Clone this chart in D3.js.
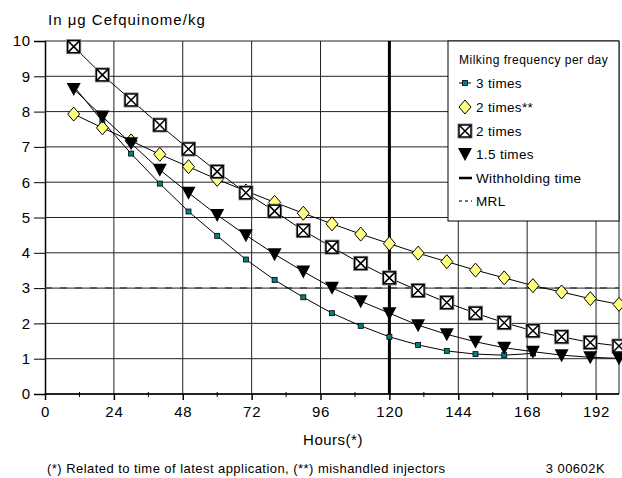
<!DOCTYPE html>
<html>
<head>
<meta charset="utf-8">
<script src="https://cdn.jsdelivr.net/npm/d3@7"></script>
<style>
body{margin:0;background:#fff}
text{font-family:"Liberation Sans",Arial,sans-serif}
</style>
</head>
<body>
<svg id="chart" width="622" height="478"></svg>
<script>
// hours after last application
const hours = [10,20,30,40,50,60,70,80,90,100,110,120,130,140,150,160,170,180,190,200]
const times3 = [8.72,7.73,6.81,5.96,5.17,4.48,3.81,3.23,2.74,2.29,1.93,1.62,1.39,1.22,1.13,1.10,1.15]
const times2mis = [7.93,7.54,7.17,6.79,6.44,6.08,5.75,5.43,5.12,4.82,4.53,4.26,3.99,3.75,3.51,3.29,3.07,2.89,2.70,2.54]
const times2 = [9.84,9.04,8.33,7.62,6.94,6.30,5.70,5.18,4.63,4.16,3.70,3.29,2.93,2.59,2.29,2.02,1.79,1.62,1.46,1.36]
const times15 = [8.64,7.86,7.10,6.35,5.70,5.07,4.50,3.96,3.47,3.01,2.63,2.29,1.95,1.69,1.48,1.31,1.20,1.10,1.04,1.01]
const xTicks = [0,24,48,72,96,120,144,168,192]
const yTicks = [0,1,2,3,4,5,6,7,8,9,10]
const withholding = 120
const mrl = 3
const legendLabels = ['3 times','2 times**','2 times','1.5 times','Withholding time','MRL']

const svg = d3.select('#chart')
const pLeft = 45, pRight = 619, pTop = 41, pBottom = 394
const x = d3.scaleLinear().domain([0,200]).range([pLeft,pRight])
const y = d3.scaleLinear().domain([0,10]).range([pBottom,pTop])

// grid
svg.append('g').selectAll('line').data(yTicks).join('line')
    .attr('x1',pLeft).attr('x2',pRight)
    .attr('y1',d => y(d)).attr('y2',d => y(d))
    .attr('stroke','#222').attr('stroke-width',1)
svg.append('g').selectAll('line').data(xTicks.filter(d => d > 0)).join('line')
    .attr('x1',d => x(d)).attr('x2',d => x(d))
    .attr('y1',pTop).attr('y2',pBottom)
    .attr('stroke','#222').attr('stroke-width',1)
svg.append('line').attr('x1',pRight).attr('x2',pRight).attr('y1',pTop).attr('y2',pBottom)
    .attr('stroke','#222')

// axes
const xAxis = d3.axisBottom(x).tickValues(xTicks).tickSize(6).tickPadding(6)
const gx = svg.append('g').attr('transform',`translate(0,${pBottom})`).call(xAxis)
gx.select('.domain').attr('stroke','#000').attr('stroke-width',1.5).attr('d',`M${pLeft},0H${pRight}`)
gx.selectAll('text').attr('font-size',15).attr('letter-spacing',0.7).attr('fill','#000')
gx.selectAll('line').attr('stroke','#000').attr('stroke-width',1.5)
// minor ticks
svg.append('g').selectAll('line').data(d3.range(12,200,24)).join('line')
    .attr('x1',d => x(d)).attr('x2',d => x(d))
    .attr('y1',pBottom - 2).attr('y2',pBottom + 3)
    .attr('stroke','#000')

const yAxis = d3.axisLeft(y).tickValues(yTicks).tickSize(11).tickPadding(3)
const gy = svg.append('g').attr('transform',`translate(${pLeft},0)`).call(yAxis)
gy.select('.domain').attr('stroke','#000').attr('stroke-width',1.5)
gy.selectAll('text').attr('font-size',15).attr('letter-spacing',0.8).attr('fill','#000')
gy.selectAll('line').attr('stroke','#000').attr('stroke-width',1)

// MRL and withholding time
svg.append('line').attr('x1',pLeft).attr('x2',pRight).attr('y1',y(mrl)).attr('y2',y(mrl))
    .attr('stroke','#444').attr('stroke-width',1.5).attr('stroke-dasharray','7,8')
svg.append('line').attr('x1',x(withholding)).attr('x2',x(withholding)).attr('y1',pTop).attr('y2',pBottom)
    .attr('stroke','#000').attr('stroke-width',3)

// legend box
const lg = svg.append('g')
lg.append('rect').attr('x',448).attr('y',41).attr('width',171).attr('height',180)
    .attr('fill','#fff').attr('stroke','#000').attr('stroke-width',1)

const line = d3.line().x(d => x(d[0])).y(d => y(d[1]))
function series(vals){ return vals.map((v,i) => [hours[i],v]) }

function drawSquare(g,cx,cy){
    g.append('rect').attr('x',cx-2.5).attr('y',cy-2.5).attr('width',5).attr('height',5)
        .attr('fill','#008080').attr('stroke','#000').attr('stroke-width',0.8)
}
function drawDiamond(g,cx,cy){
    g.append('path').attr('d',`M${cx},${cy-7}L${cx+6},${cy}L${cx},${cy+7}L${cx-6},${cy}Z`)
        .attr('fill','#ffff80').attr('stroke','#000').attr('stroke-width',1)
}
function drawBoxX(g,cx,cy){
    g.append('rect').attr('x',cx-7).attr('y',cy-7).attr('width',14).attr('height',14)
        .attr('fill','#fff').attr('stroke','#888').attr('stroke-width',1)
    g.append('rect').attr('x',cx-6).attr('y',cy-6).attr('width',12).attr('height',12)
        .attr('fill','none').attr('stroke','#000').attr('stroke-width',1.5)
    g.append('path').attr('d',`M${cx-6},${cy-6}L${cx+6},${cy+6}M${cx+6},${cy-6}L${cx-6},${cy+6}`)
        .attr('stroke','#000').attr('stroke-width',1.5)
}
function drawTriangle(g,cx,cy){
    g.append('path').attr('d',`M${cx-7},${cy-6}L${cx+7},${cy-6}L${cx},${cy+7}Z`)
        .attr('fill','#000')
}

const all = [
    {vals:times3, draw:drawSquare},
    {vals:times2mis, draw:drawDiamond},
    {vals:times2, draw:drawBoxX},
    {vals:times15, draw:drawTriangle}
]
all.forEach(s => {
    svg.append('path').attr('d',line(series(s.vals)))
        .attr('fill','none').attr('stroke','#000').attr('stroke-width',1)
})
all.forEach(s => {
    const g = svg.append('g')
    series(s.vals).forEach(p => s.draw(g,x(p[0]),y(p[1])))
})

// legend content
lg.append('text').attr('x',459).attr('y',64).attr('font-size',12).attr('letter-spacing',0.5)
    .text('Milking frequency per day')
const rowY = [83,107,131,154,178,201]
legendLabels.forEach((lab,i) => {
    const ly = rowY[i]
    lg.append('text').attr('x',476).attr('y',ly + 5).attr('font-size',13.5).attr('letter-spacing',0.35).text(lab)
})
lg.append('line').attr('x1',459).attr('x2',471).attr('y1',rowY[0]).attr('y2',rowY[0]).attr('stroke','#000')
drawSquare(lg,465,rowY[0])
drawDiamond(lg,465,rowY[1])
drawBoxX(lg,465,rowY[2])
drawTriangle(lg,465,rowY[3])
lg.append('line').attr('x1',459).attr('x2',472).attr('y1',rowY[4]).attr('y2',rowY[4]).attr('stroke','#000').attr('stroke-width',2.5)
lg.append('line').attr('x1',459).attr('x2',472).attr('y1',rowY[5]).attr('y2',rowY[5]).attr('stroke','#444').attr('stroke-width',1.3).attr('stroke-dasharray','3,3')

// titles
svg.append('text').attr('x',48).attr('y',25).attr('font-size',15).attr('letter-spacing',1)
    .text('In \u03bcg Cefquinome/kg')
svg.append('text').attr('x',333).attr('y',445).attr('text-anchor','middle').attr('font-size',15).attr('letter-spacing',0.5)
    .text('Hours(*)')
svg.append('text').attr('x',47).attr('y',473).attr('font-size',13).attr('letter-spacing',0.45)
    .text('(*) Related to time of latest application, (**) mishandled injectors')
svg.append('text').attr('x',605).attr('y',473).attr('text-anchor','end').attr('font-size',13).attr('letter-spacing',0.45)
    .text('3 00602K')
</script>
</body>
</html>
